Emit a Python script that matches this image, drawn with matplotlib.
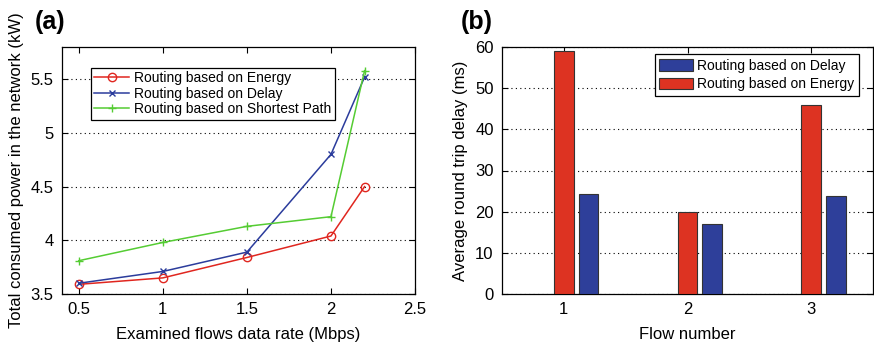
import numpy as np
import matplotlib
matplotlib.use("Agg")
import matplotlib.pyplot as plt

plt.rcParams['font.family'] = ['Liberation Sans', 'DejaVu Sans']

# panel (a) data
rate = [0.5, 1, 1.5, 2, 2.2]
power_energy = [3.59, 3.65, 3.84, 4.04, 4.50]
power_delay = [3.60, 3.71, 3.89, 4.80, 5.52]
power_shortest = [3.81, 3.98, 4.13, 4.22, 5.58]

# panel (b) data
flows = [1, 2, 3]
rtt_energy = [59.0, 20.0, 45.8]
rtt_delay = [24.2, 16.9, 23.7]

red = '#e0261f'
blue = '#2b3c9c'
green = '#55cc33'
bar_red = '#dd3322'
bar_blue = '#2e3f9a'

fig = plt.figure(figsize=(8.74, 3.47), dpi=100)
ax1 = fig.add_axes([62/874, 1-294/347, (415-62)/874, (294-47)/347])
ax2 = fig.add_axes([502/874, 1-294/347, (873-502)/874, (294-47)/347])

# (a)
ax1.plot(rate, power_energy, '-o', color=red, lw=1.1, ms=6, mfc='none', mew=1.0,
         label='Routing based on Energy')
ax1.plot(rate, power_delay, '-x', color=blue, lw=1.1, ms=4, mew=1.0,
         label='Routing based on Delay')
ax1.plot(rate, power_shortest, '-+', color=green, lw=1.1, ms=6, mew=1.0,
         label='Routing based on Shortest Path')
ax1.set_xlim(0.4, 2.5)
ax1.set_ylim(3.5, 5.8)
ax1.set_xticks([0.5, 1, 1.5, 2, 2.5])
ax1.set_xticklabels(['0.5', '1', '1.5', '2', '2.5'])
ax1.set_yticks([3.5, 4, 4.5, 5, 5.5])
ax1.set_yticklabels(['3.5', '4', '4.5', '5', '5.5'])
ax1.yaxis.grid(True, linestyle=(0, (1, 3)), color='k', lw=0.8)
ax1.set_xlabel('Examined flows data rate (Mbps)', fontsize=12, labelpad=7)
ax1.set_ylabel('Total consumed power in the network (kW)', fontsize=12, labelpad=5)
leg1 = ax1.legend(loc='upper left', bbox_to_anchor=(0.062, 0.945), fontsize=10,
                  fancybox=False, edgecolor='k', framealpha=1, handlelength=2.5,
                  borderpad=0.25, labelspacing=0.12, handletextpad=0.35)
leg1.get_frame().set_linewidth(0.9)
fig.text(35/874, 1-29/347, '(a)', fontsize=18, fontweight='bold')

# (b)
x = np.array(flows, dtype=float)
ax2.bar(x + 0.2, rtt_delay, width=0.16, color=bar_blue, edgecolor='#333333', lw=0.8,
        label='Routing based on Delay', zorder=3)
ax2.bar(x, rtt_energy, width=0.16, color=bar_red, edgecolor='#333333', lw=0.8,
        label='Routing based on Energy', zorder=3)
ax2.set_xlim(0.5, 3.5)
ax2.set_ylim(0, 60)
ax2.set_xticks(flows)
ax2.set_yticks(range(0, 61, 10))
ax2.yaxis.grid(True, linestyle=(0, (1, 3)), color='k', lw=0.8)
ax2.set_axisbelow(True)
ax2.set_xlabel('Flow number', fontsize=12, labelpad=7)
ax2.set_ylabel('Average round trip delay (ms)', fontsize=12, labelpad=5)
leg2 = ax2.legend(loc='upper right', bbox_to_anchor=(0.98, 0.998), fontsize=10,
                  fancybox=False, edgecolor='k', framealpha=1, handlelength=2.45,
                  handleheight=0.9, borderpad=0.3, labelspacing=0.35, handletextpad=0.3)
leg2.get_frame().set_linewidth(0.9)
fig.text(461/874, 1-29/347, '(b)', fontsize=18, fontweight='bold')

for ax in (ax1, ax2):
    ax.tick_params(direction='in', top=True, right=True, labelsize=12, length=4,
                   width=0.8, pad=6)
    for s in ax.spines.values():
        s.set_linewidth(0.9)

fig.savefig('out.png', dpi=100)
